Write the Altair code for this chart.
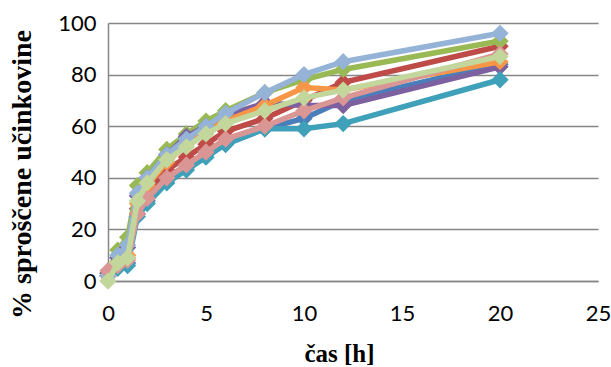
import altair as alt
import pandas as pd

times = [0, 0.5, 1, 1.5, 2, 3, 4, 5, 6, 8, 10, 12, 20]

series_names = ["S1", "S2", "S3", "S4", "S5", "S6", "S7", "S8", "S9"]
colors = ["#4A7EBB", "#BE4B48", "#98B954", "#7D60A0", "#3FA0B9",
          "#F79646", "#95B3D7", "#DA9694", "#C3D69B"]

s1 = [2, 5, 7, 26, 31, 39, 44, 49, 53, 59, 63, 70, 84]   # blue
s2 = [2, 6, 9, 28, 34, 43, 48, 53, 58, 63, 70, 77, 91]   # red
s3 = [3, 12, 17, 37, 42, 51, 57, 62, 66, 73, 78, 82, 93] # green
s4 = [3, 9, 13, 33, 40, 49, 56, 60, 64, 69, 68, 68, 83]  # purple
s5 = [2, 5, 6, 25, 30, 38, 43, 48, 53, 59, 59, 61, 78]   # teal
s6 = [2, 7, 10, 30, 37, 46, 53, 58, 62, 68, 75, 74, 85]  # orange
s7 = [2, 10, 14, 34, 40, 49, 55, 60, 65, 73, 80, 85, 96] # light blue
s8 = [4, 6, 8, 26, 32, 40, 45, 50, 55, 60, 66, 71, 88]   # pink
s9 = [0, 7, 9, 31, 38, 47, 52, 57, 61, 66, 71, 74, 87]   # light green

all_values = [s1, s2, s3, s4, s5, s6, s7, s8, s9]

x_ticks = [0, 5, 10, 15, 20, 25]
y_ticks = [0, 20, 40, 60, 80, 100]

x_title = "čas [h]"
y_title = "% sproščene učinkovine"

serif = "'Liberation Serif', 'Times New Roman', 'DejaVu Serif', serif"

x_enc = alt.X(
    "t:Q",
    scale=alt.Scale(domain=[0, 25], nice=False),
    axis=alt.Axis(
        values=x_ticks, title=x_title, grid=False, ticks=False, labelFlush=False,
        labelFont="Lato", labelFontSize=22, labelColor="#000000",
        labelPadding=22, domainColor="#868686", domainWidth=1.5,
        titleFont=serif, titleFontSize=25, titleFontWeight="bold",
        titleColor="#000000", titleY=72, titleBaseline="middle", titleX=231,
    ),
)
y_enc = alt.Y(
    "v:Q",
    scale=alt.Scale(domain=[0, 100], nice=False),
    axis=alt.Axis(
        values=y_ticks, title=y_title, grid=True, ticks=False, labelFlush=False,
        gridColor="#868686", gridWidth=1.5,
        labelFont="Lato", labelFontSize=22, labelColor="#000000",
        labelPadding=12, domainColor="#868686", domainWidth=1.5,
        titleFont=serif, titleFontSize=28, titleFontWeight="bold",
        titleColor="#000000", titleX=-86, titleY=151, titleAngle=-90,
        titleAlign="center", titleBaseline="middle",
    ),
)

layers = []
for i, (name, vals) in enumerate(zip(series_names, all_values)):
    df = pd.DataFrame({"t": times, "v": vals})
    layer = alt.Chart(df).mark_line(
        color=colors[i], strokeWidth=5.5,
        point=alt.OverlayMarkDef(shape="diamond", size=300, filled=True,
                                 color=colors[i], opacity=1),
    ).encode(x=x_enc, y=y_enc)
    layers.append(layer)

chart = alt.layer(*layers).properties(
    width=490, height=258,
    autosize=alt.AutoSizeParams(type="none"),
    padding={"left": 108, "top": 23, "right": 13, "bottom": 86},
    background="#ffffff",
).configure_view(stroke=None)

chart.save("out.html", embed_options={"renderer": "svg", "actions": False})
